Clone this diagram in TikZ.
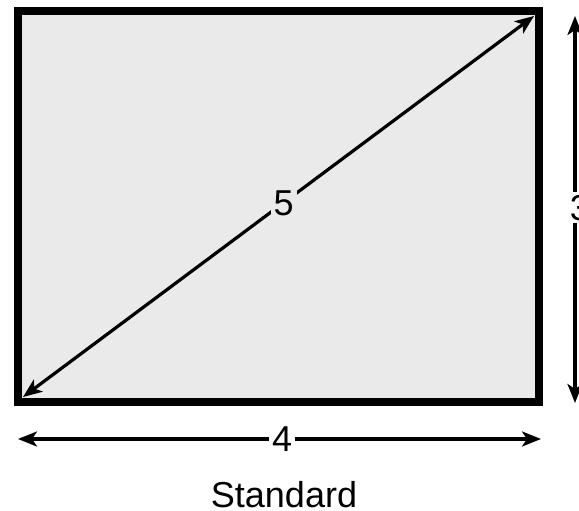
\documentclass[tikz,border=0pt]{standalone}
\usepackage{fontspec}
\setmainfont{Liberation Sans}
\usetikzlibrary{arrows.meta}
\definecolor{boxgray}{HTML}{EAEAEA}
\begin{document}
\begin{tikzpicture}[x=1pt,y=-1pt,>={Stealth[length=19pt,width=15pt,inset=5pt]},
  dim/.style={<->,line width=3.2pt},
  lbl/.style={inner sep=3pt,text depth=0pt,font=\fontsize{36}{40}\selectfont}]
\useasboundingbox (0,0) rectangle (579,511);
\draw[line width=8pt,fill=boxgray] (18,11) rectangle (539,402);
\coordinate (bl) at (23,397);
\coordinate (tr) at (534,16);
\draw[dim] (bl) -- (tr) node[pos=0.51,lbl,fill=boxgray] (five) {5};
\coordinate (vtop) at (575,16);
\coordinate (vbot) at (575,403);
\draw[dim] (vtop) -- (vbot) node[pos=0.495,lbl,fill=white,xshift=5pt] (three) {3};
\coordinate (hl) at (18,439);
\coordinate (hr) at (541,439);
\draw[dim] (hl) -- (hr) node[pos=0.505,lbl,fill=white] (four) {4};
\node[lbl,inner sep=0pt,anchor=base] (std) at (284,507) {Standard};
\end{tikzpicture}
\end{document}
